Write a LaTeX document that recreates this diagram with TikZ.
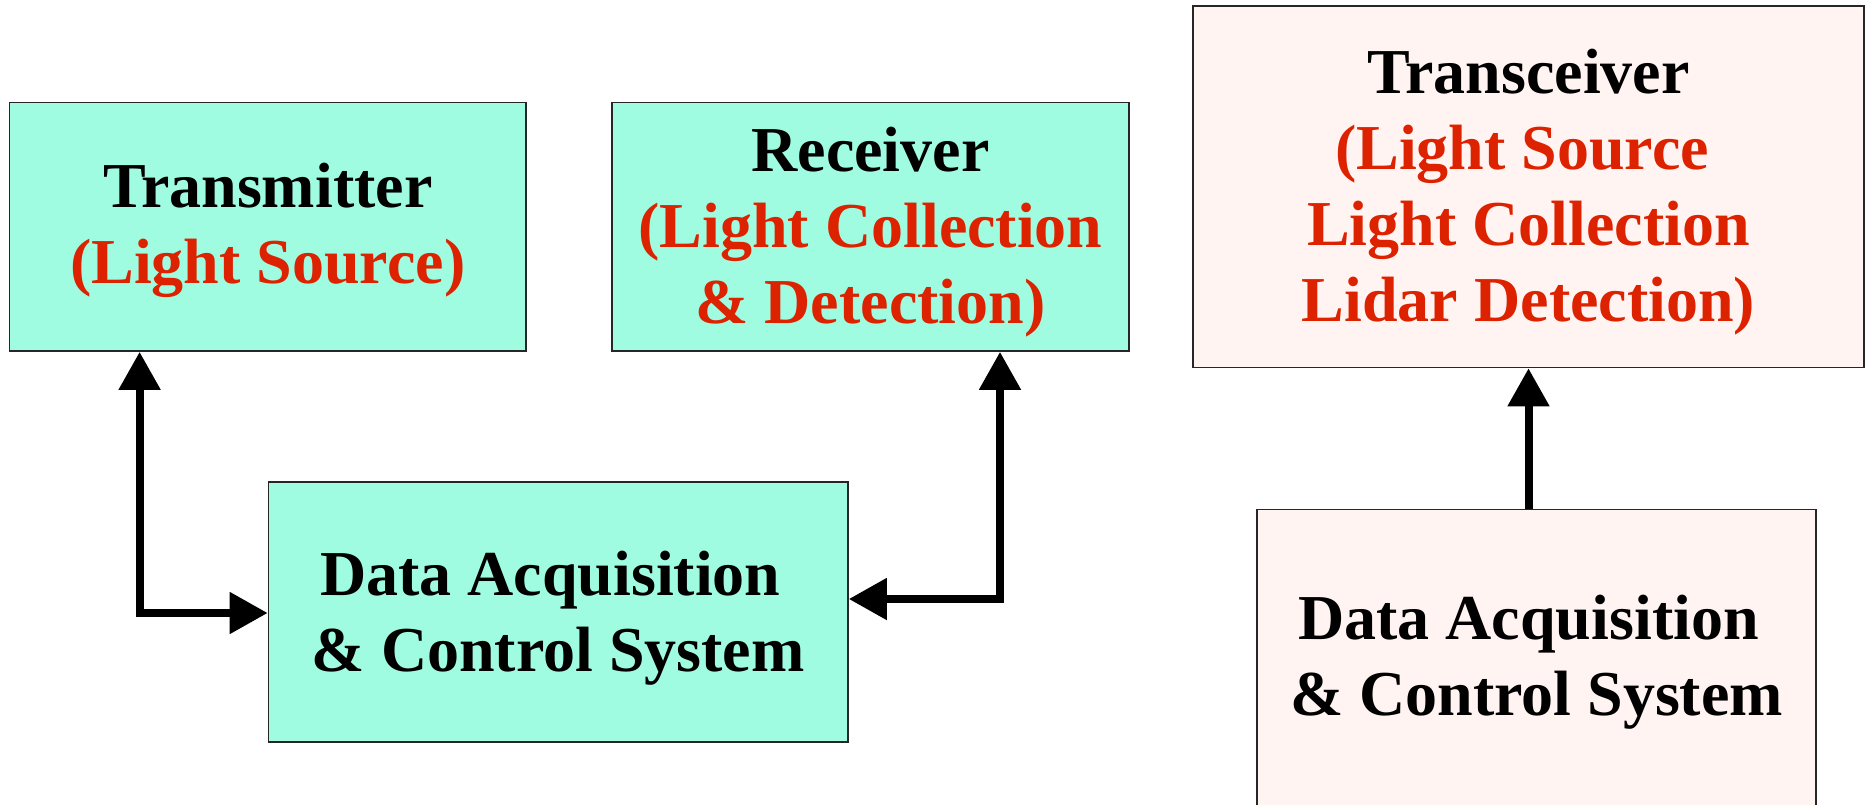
\documentclass[tikz,border=0pt]{standalone}
\usepackage{fontspec}
\setmainfont{Liberation Serif}
\usetikzlibrary{arrows.meta}
\definecolor{aqua}{RGB}{160,252,224}
\definecolor{rosy}{RGB}{255,244,242}
\definecolor{redtxt}{RGB}{221,34,0}
\tikzset{
  box/.style={draw=black!85, line width=1.6pt, inner sep=0pt},
  txt/.style={inner sep=0pt, align=center, font=\fontsize{64}{76}\selectfont\bfseries},
  conn/.style={line width=8pt, -{Triangle[length=38pt,width=40pt]}},
  conn2/.style={line width=8pt, {Triangle[length=38pt,width=40pt]}-{Triangle[length=38pt,width=40pt]}},
}
\begin{document}
\begin{tikzpicture}[x=1pt,y=-1pt]
\useasboundingbox (0,0) rectangle (1871,804);
\clip (0,0) rectangle (1871,804);
\node[box, fill=aqua, minimum width=516.5pt, minimum height=248.4pt] (tx) at (267.75,226.8) {};
\node[txt] (txt-tx) at ([yshift=-4pt]tx.center) {Transmitter\\\textcolor{redtxt}{(Light Source)}};
\node[box, fill=aqua, minimum width=517pt, minimum height=248.4pt] (rx) at (870.5,226.8) {};
\node[txt] (txt-rx) at ([yshift=-5pt]rx.center) {Receiver\\\textcolor{redtxt}{(Light Collection}\\\textcolor{redtxt}{\& Detection)}};
\node[box, fill=rosy, minimum width=671pt, minimum height=361.5pt] (tc) at (1528.5,186.75) {};
\node[txt] (txt-tc) at ([yshift=-5pt]tc.center) {Transceiver\\\textcolor{redtxt}{(Light Source\hspace*{0.2em}}\\\textcolor{redtxt}{Light Collection}\\\textcolor{redtxt}{Lidar Detection)}};
\node[box, fill=aqua, minimum width=579.5pt, minimum height=260pt] (dl) at (558.25,612) {};
\node[txt] (txt-dl) at ([yshift=-6pt]dl.center) {Data Acquisition\hspace*{0.25em}\\\& Control System};
\node[box, fill=rosy, minimum width=559pt, minimum height=330pt] (dr) at (1536.5,674.5) {};
\node[txt] (txt-dr) at (1536.5,662) {Data Acquisition\hspace*{0.25em}\\\& Control System};
\coordinate (c1) at (139.6,613);
\coordinate (c2) at (1000,599);
\draw[conn2] (tx.south -| c1) |- (dl.west |- c1);
\draw[conn2] (rx.south -| c2) |- (dl.east |- c2);
\draw[conn] (dr.north -| tc.south) -- (tc.south);
\end{tikzpicture}
\end{document}
